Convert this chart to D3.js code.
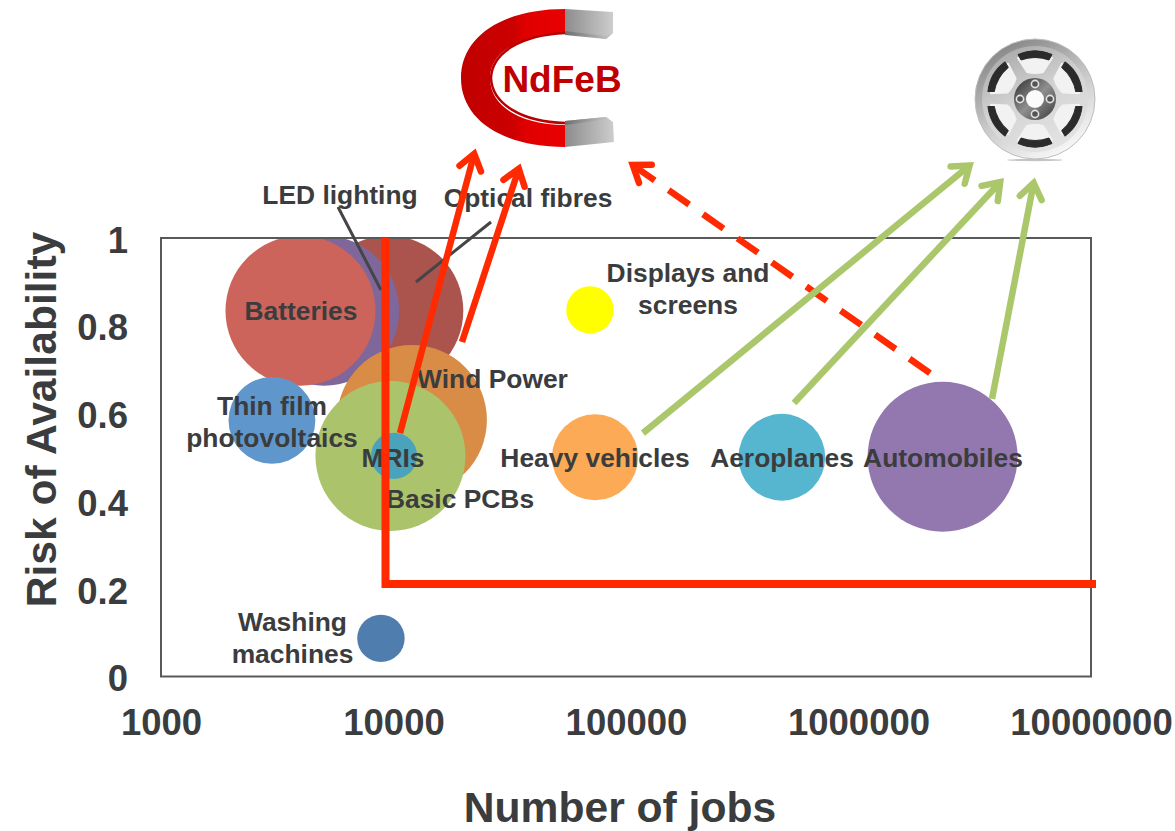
<!DOCTYPE html>
<html>
<head>
<meta charset="utf-8">
<script src="https://cdnjs.cloudflare.com/ajax/libs/d3/7.8.5/d3.min.js"></script>
<style>
html,body{margin:0;padding:0;background:#fff;}
svg{display:block;}
text{font-family:"Liberation Sans",Arial,sans-serif;font-weight:bold;}
</style>
</head>
<body>
<svg id="chart" width="1175" height="831"></svg>
<script>
// ---- data ----
const categories = ["Optical fibres","LED lighting","Batteries","Thin film photovoltaics","Wind Power","Basic PCBs","MRIs","Washing machines","Displays and screens","Heavy vehicles","Aeroplanes","Automobiles"];
const jobs =    [9500, 5030, 3980, 3000, 12000, 9700, 10050, 8830, 70000, 73600, 468000, 2300000];
const risk =    [0.834, 0.834, 0.834, 0.584, 0.585, 0.503, 0.503, 0.087, 0.836, 0.5, 0.5, 0.501];
const sizes =   [10, 10, 10, 3.35, 10, 10, 0.95, 1, 1, 3.3, 3.35, 10];
const colours = ["#ab544e","#7f669b","#cc645c","#5f97cc","#d98c45","#abc46b","#4aa3ba","#4f7eae","#ffff00","#fcaa55","#56b6d0","#9278af"];
const xTicks = [1000, 10000, 100000, 1000000, 10000000];
const yTicks = [0, 0.2, 0.4, 0.6, 0.8, 1];
const thresholdJobs = [9239, 9239, 10508000];
const thresholdRisk = [1, 0.211, 0.211];
// supply-chain arrows, in chart units (they run past the top of the axis)
const arrowFromJobs = [10666, 19700, 2030000, 118300, 528000, 3752000];
const arrowFromRisk = [0.555, 0.763, 0.692, 0.555, 0.6237, 0.633];
const arrowToJobs =   [22640, 35350, 101000, 3170000, 4266000, 5742000];
const arrowToRisk =   [1.2075, 1.1733, 1.1756, 1.1756, 1.139, 1.1414];
const arrowKinds =    ["red","red","dash","green","green","green"];
// label text and pixel placement, separate from the values
const labelLines = [["Batteries"],["LED lighting"],["Optical fibres"],["Displays and","screens"],["Wind Power"],["Thin film","photovoltaics"],["MRIs"],["Basic PCBs"],["Washing","machines"],["Heavy vehicles"],["Aeroplanes"],["Automobiles"]];
const labelX = [301,340,528,688,492.5,272,393,460,292.5,595,782,943];
const labelY = [320,204,207,282,388,415,467,508,631,467,467,467];

// ---- scales ----
const svg = d3.select("#chart");
const x = d3.scaleLog().domain([1000,10000000]).range([161,1091]);
const y = d3.scaleLinear().domain([0,1]).range([676.5,238]);
const r = d3.scaleSqrt().domain([0,10]).range([0,75]);
const ink = "#3b3c3e";

// ---- decorations: magnet ----
const defs = svg.append("defs");
function grad(id, stops, x1=0,y1=0,x2=1,y2=0){
  const g = defs.append("linearGradient").attr("id",id).attr("x1",x1).attr("y1",y1).attr("x2",x2).attr("y2",y2);
  stops.forEach(s=>g.append("stop").attr("offset",s[0]).attr("stop-color",s[1]));
}
grad("mRed",[[0,"#c00000"],[0.5,"#cc0000"],[0.62,"#e00000"],[1,"#e90000"]]);
grad("mGrey",[[0,"#8c8c8c"],[1,"#cdcdcd"]]);
grad("mGreyD",[[0,"#6e6e6e"],[1,"#c8c8c8"]]);
grad("wRim",[[0,"#7d7d7d"],[0.55,"#c9c9c9"],[1,"#fafafa"]],0.15,0,0.7,1);
grad("wFace",[[0,"#a8a8a8"],[0.5,"#d4d4d4"],[1,"#e4e4e4"]],0.2,0,0.7,1);
grad("wHub",[[0,"#2c2c2c"],[0.5,"#8f8f8f"],[1,"#3a3a3a"]],0,0,1,1);
defs.append("clipPath").attr("id","plotClip").append("rect")
  .attr("x",x(1000)).attr("y",y(1)).attr("width",x(10000000)-x(1000)).attr("height",y(0)-y(1));

const magnet = svg.append("g");
magnet.append("path")
  .attr("d","M565,9 C503,9 461,36 461,78 C461,120 503,147 565,147 L565,125 C520,125 490,106 490,78 C490,52 520,35 565,33 Z")
  .attr("fill","url(#mRed)");
magnet.append("path")
  .attr("d","M565,33 C522,35 492,52 491,78 C492,104 522,122 565,123")
  .attr("fill","none").attr("stroke","#b80000").attr("stroke-width",2.5);
magnet.append("path").attr("d","M565,9 L613,12 L613,33 L606,39 L565,33 Z").attr("fill","url(#mGrey)");
magnet.append("path").attr("d","M565,31 L606,36 L613,33 L606,39 L565,35 Z").attr("fill","url(#mGreyD)");
magnet.append("path").attr("d","M565,121 L606,117 L613,122 L614,142 L565,147 Z").attr("fill","url(#mGrey)");
magnet.append("path").attr("d","M565,121 L606,117 L609,119 L565,125 Z").attr("fill","url(#mGreyD)");
magnet.append("text").attr("x",562).attr("y",92).attr("text-anchor","middle")
  .attr("font-size",37).attr("fill","#c00000").text("NdFeB");

// ---- decorations: wheel ----
const wheel = svg.append("g").attr("transform","translate(1035,99)");
wheel.append("ellipse").attr("cx",0).attr("cy",61).attr("rx",28).attr("ry",1.2).attr("fill","#c4c4c4");
wheel.append("circle").attr("r",60).attr("fill","url(#wRim)").attr("stroke","#bdbdbd");
wheel.append("circle").attr("r",53).attr("fill","url(#wFace)");
d3.range(6).forEach(i=>{
  const w = wheel.append("g").attr("transform",`rotate(${i*60})`);
  w.append("path").attr("d","M-17,-41 Q0,-46 17,-41 L8,-27 Q0,-25 -8,-27 Z")
    .attr("fill","#f2f2f2").attr("stroke","#f2f2f2").attr("stroke-width",2).attr("stroke-linejoin","round");
  w.append("path").attr("d","M-17,-44.5 Q0,-52 17,-44.5 L14,-39 Q0,-44 -14,-39 Z")
    .attr("fill","#2b2b2b").attr("stroke","#2b2b2b").attr("stroke-width",1).attr("stroke-linejoin","round");
});
wheel.append("circle").attr("r",21).attr("fill","url(#wHub)");
wheel.append("circle").attr("r",9).attr("fill","#fbfbfb");
[[0,-15],[15,0],[0,15],[-15,0]].forEach(p=>{
  wheel.append("circle").attr("cx",p[0]).attr("cy",p[1]).attr("r",3.6).attr("fill","#555").attr("stroke","#e2e2e2").attr("stroke-width",1.6);
});

// ---- axes ----
const xAxis = d3.axisBottom(x).tickValues(xTicks).tickFormat(d3.format("d")).tickSize(0);
const gx = svg.append("g").attr("transform",`translate(0,${y(0)})`).call(xAxis);
const yAxis = d3.axisLeft(y).tickValues(yTicks).tickFormat(d3.format("")).tickSize(0).tickPadding(33);
const gy = svg.append("g").attr("transform",`translate(${x(1000)},0)`).call(yAxis);
gx.select(".domain").remove(); gy.select(".domain").remove();
gx.selectAll("text").attr("y",0).attr("dy","58.5px").attr("font-size",36.5).attr("fill",ink);
gy.selectAll("text").attr("dy","14.2px").attr("font-size",36.5).attr("fill",ink);
gx.attr("font-family",null); gy.attr("font-family",null);

svg.append("text").attr("x",620).attr("y",822).attr("text-anchor","middle")
  .attr("font-size",42.6).attr("fill",ink).text("Number of jobs");
svg.append("text").attr("transform","translate(56,419.5) rotate(-90)").attr("text-anchor","middle")
  .attr("font-size",42.6).attr("fill",ink).text("Risk of Availability");

// ---- bubbles ----
svg.append("g").attr("clip-path","url(#plotClip)").selectAll("circle").data(categories).join("circle")
  .attr("cx",(d,i)=>x(jobs[i])).attr("cy",(d,i)=>y(risk[i]))
  .attr("r",(d,i)=>r(sizes[i])).attr("fill",(d,i)=>colours[i]);

// ---- frame ----
svg.append("rect").attr("x",x(1000)).attr("y",y(1))
  .attr("width",x(10000000)-x(1000)).attr("height",y(0)-y(1))
  .attr("fill","none").attr("stroke","#58595b").attr("stroke-width",2);

// ---- leader lines ----
const leaders = svg.append("g").attr("stroke","#444548").attr("stroke-width",3).attr("fill","none");
leaders.append("line").attr("x1",338).attr("y1",207).attr("x2",381).attr("y2",290);
leaders.append("line").attr("x1",491).attr("y1",222).attr("x2",416).attr("y2",282);

// ---- labels ----
const lab = svg.append("g").attr("text-anchor","middle").attr("font-size",26.4).attr("fill",ink);
labelLines.forEach((lines,i)=>{
  lines.forEach((t,j)=>{
    lab.append("text").attr("x",labelX[i]).attr("y",labelY[i]+j*32).text(t);
  });
});

// ---- threshold ----
const line = d3.line().x(d=>x(d[0])).y(d=>y(d[1]));
svg.append("path").datum(thresholdJobs.map((v,i)=>[v,thresholdRisk[i]])).attr("d",line)
  .attr("fill","none").attr("stroke","#ff2a00").attr("stroke-width",8).attr("stroke-linejoin","miter");

// ---- arrows ----
const arrowStyle = {red:"#ff2a00",dash:"#ff2a00",green:"#abc76b"};
arrowKinds.forEach((k,i)=>{
  const x1=x(arrowFromJobs[i]), y1=y(arrowFromRisk[i]), x2=x(arrowToJobs[i]), y2=y(arrowToRisk[i]);
  const a=Math.atan2(y1-y2,x1-x2), len=25, spread=0.46, inset=7;
  const g=svg.append("g").attr("fill","none").attr("stroke",arrowStyle[k]).attr("stroke-width",6.5);
  g.append("line").attr("x1",x1).attr("y1",y1)
    .attr("x2",x2+Math.cos(a)*inset).attr("y2",y2+Math.sin(a)*inset)
    .attr("stroke-dasharray",k==="dash"?"25 17":null);
  g.append("path").attr("stroke-linecap","round").attr("stroke-linejoin","miter")
    .attr("d",d3.line()([
      [x2+Math.cos(a+spread)*len,y2+Math.sin(a+spread)*len],
      [x2+Math.cos(a)*inset,y2+Math.sin(a)*inset],
      [x2+Math.cos(a-spread)*len,y2+Math.sin(a-spread)*len]]));
});
</script>
</body>
</html>
